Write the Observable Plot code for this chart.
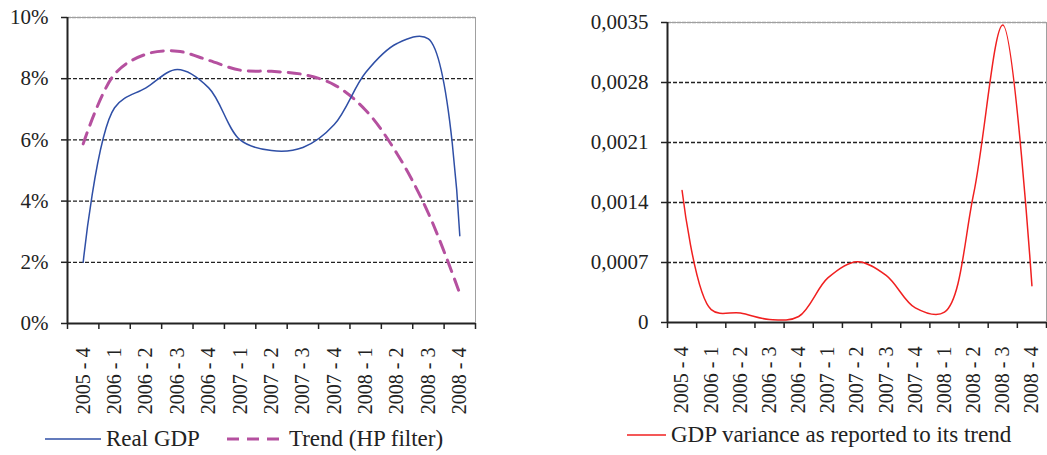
<!DOCTYPE html>
<html>
<head>
<meta charset="utf-8">
<script src="https://cdn.jsdelivr.net/npm/d3@7"></script>
<script src="https://cdn.jsdelivr.net/npm/@observablehq/plot@0.6"></script>
<style>
  body { margin: 0; background: #fff; }
  #wrap { position: relative; width: 1047px; height: 455px; font-family: "Liberation Serif", "Times New Roman", serif; color: #222; }
  .chart { position: absolute; top: 0; }
  .legend { position: absolute; display: flex; align-items: center; font-size: 23px; white-space: nowrap; }
  .legend svg { margin-right: 5px; }
</style>
</head>
<body>
<div id="wrap">
  <div id="left" class="chart" style="left:0px"></div>
  <div id="right" class="chart" style="left:560px"></div>
  <div class="legend" style="left:45px; top:426px;">
    <svg width="56" height="10"><line x1="0" x2="56" y1="5" y2="5" stroke="#2f4fa6" stroke-width="1.5"/></svg>
    <span>Real GDP</span>
    <svg width="58" height="10" style="margin-left:26px"><line x1="1" x2="57" y1="5" y2="5" stroke="#b5509f" stroke-width="3" stroke-dasharray="12,8"/></svg>
    <span>Trend (HP filter)</span>
  </div>
  <div class="legend" style="left:627px; top:422px;">
    <svg width="39" height="10"><line x1="0" x2="39" y1="5" y2="5" stroke="#f02020" stroke-width="1.5"/></svg>
    <span>GDP variance as reported to its trend</span>
  </div>
</div>
<script>
const quarters = ["2005 - 4","2006 - 1","2006 - 2","2006 - 3","2006 - 4","2007 - 1","2007 - 2","2007 - 3","2007 - 4","2008 - 1","2008 - 2","2008 - 3","2008 - 4"];
const realGDP = [2.0, 7.05, 7.7, 8.3, 7.7, 6.0, 5.65, 5.75, 6.5, 8.2, 9.15, 9.3, 2.87];
const trendHP = [5.87, 8.15, 8.8, 8.9, 8.6, 8.28, 8.24, 8.14, 7.8, 6.97, 5.55, 3.6, 0.98];
const variance = [0.00154, 0.00015, 0.00011, 0.000035, 0.00007, 0.00052, 0.00071, 0.00055, 0.00017, 0.00012, 0.0015, 0.00347, 0.00043];
const leftTicks = [0, 2, 4, 6, 8, 10];
const rightTicks = [0, 0.0007, 0.0014, 0.0021, 0.0028, 0.0035];

const n = quarters.length;
const boundaries = d3.range(n + 1);
const centers = d3.range(n).map(i => i + 0.5);
const rows = quarters.map((q, i) => ({q, pos: i + 0.5, gdp: realGDP[i], trend: trendHP[i], v: variance[i]}));

const font = {fontFamily: "'Liberation Serif', 'Times New Roman', serif", fontSize: "20px", color: "#222", background: "white"};

function xAxes() {
  return [
    Plot.axisX({ticks: boundaries, tickFormat: () => "", tickSize: 6, stroke: "#222", strokeWidth: 1.5, label: null}),
    Plot.axisX({ticks: centers, tickFormat: d => quarters[Math.floor(d)], tickSize: 0, tickPadding: 24, tickRotate: -90, fill: "#222", label: null})
  ];
}

const left = Plot.plot({
  width: 480, height: 415,
  marginLeft: 67, marginRight: 5, marginTop: 17, marginBottom: 92,
  style: font,
  x: {domain: [0, n], label: null},
  y: {domain: [0, 10], ticks: leftTicks, label: null},
  marks: [
    Plot.frame({stroke: "#a0a0a0", strokeWidth: 1}),
    Plot.gridY([2, 4, 6, 8], {stroke: "#222", strokeOpacity: 1, strokeDasharray: "4,2", strokeWidth: 1.3}),
    Plot.ruleY([10], {stroke: "#a0a0a0", strokeDasharray: "4,1", strokeWidth: 1.5}),
    Plot.axisY({ticks: leftTicks, tickFormat: d => d + "%", tickSize: 6, tickPadding: 13, stroke: "#222", strokeWidth: 1.5, fill: "#222", fontSize: 21, label: null}),
    ...xAxes(),
    Plot.ruleX([0], {stroke: "#222", strokeWidth: 2}),
    Plot.ruleY([0], {stroke: "#222", strokeWidth: 2}),
    Plot.line(rows, {x: "pos", y: "trend", stroke: "#b5509f", strokeWidth: 3, strokeDasharray: "12,8", curve: "catmull-rom"}),
    Plot.line(rows, {x: "pos", y: "gdp", stroke: "#2f4fa6", strokeWidth: 1.5, curve: "catmull-rom"})
  ]
});
document.getElementById("left").append(left);

const fmt = d => d === 0 ? "0" : d.toFixed(4).replace(".", ",");
const right = Plot.plot({
  width: 487, height: 415,
  marginLeft: 107, marginRight: 1, marginTop: 22, marginBottom: 93,
  style: font,
  x: {domain: [0, n], label: null},
  y: {domain: [0, 0.0035], ticks: rightTicks, label: null},
  marks: [
    Plot.frame({stroke: "#a0a0a0", strokeWidth: 1}),
    Plot.gridY(rightTicks.slice(1, -1), {stroke: "#222", strokeOpacity: 1, strokeDasharray: "4,2", strokeWidth: 1.3}),
    Plot.ruleY([0.0035], {stroke: "#a0a0a0", strokeDasharray: "4,1", strokeWidth: 1.5}),
    Plot.axisY({ticks: rightTicks, tickFormat: fmt, tickSize: 6, tickPadding: 13, stroke: "#222", strokeWidth: 1.5, fill: "#222", fontSize: 21, label: null}),
    ...xAxes(),
    Plot.ruleX([0], {stroke: "#222", strokeWidth: 2}),
    Plot.ruleY([0], {stroke: "#222", strokeWidth: 2}),
    Plot.line(rows, {x: "pos", y: "v", stroke: "#f02020", strokeWidth: 1.5, curve: "catmull-rom"})
  ]
});
document.getElementById("right").append(right);
</script>
</body>
</html>
